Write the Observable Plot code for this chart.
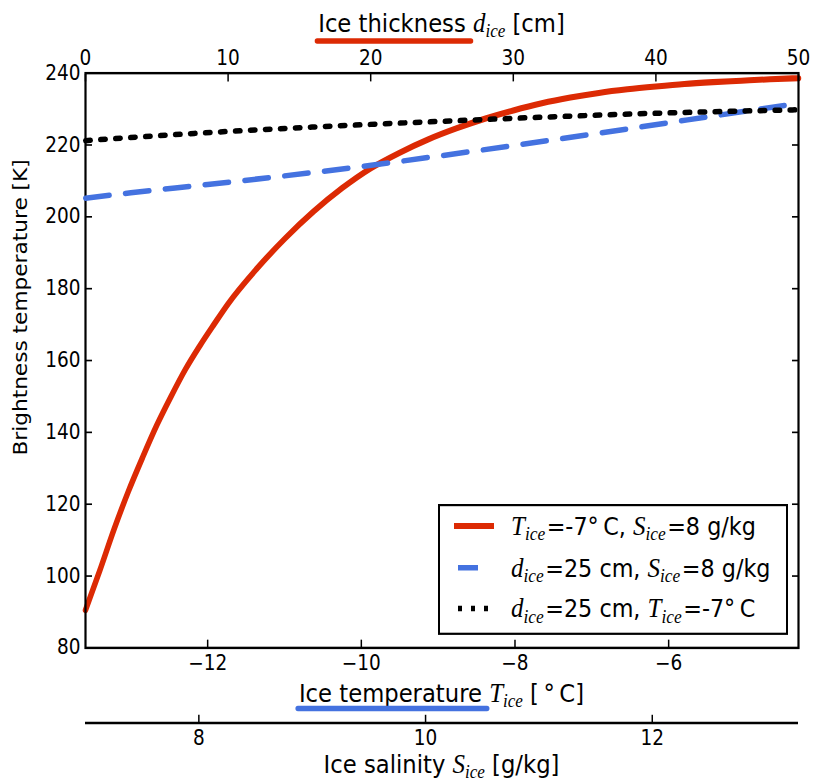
<!DOCTYPE html>
<html>
<head>
<meta charset="utf-8">
<script src="https://cdn.jsdelivr.net/npm/d3@7"></script>
<script src="https://cdn.jsdelivr.net/npm/@observablehq/plot@0.6"></script>
<style>
  html, body { margin: 0; padding: 0; background: #fff; }
  #chart { position: relative; width: 815px; height: 781px; font-family: "DejaVu Sans", sans-serif; color: #000; }
  #chart > svg { position: absolute; left: 0; top: 0; overflow: visible; }
  /* legend is laid out in the same 815x710 design units as the plots, then stretched */
  #legend { position: absolute; left: 438px; top: 503.8px; width: 350px; height: 118.5px; box-sizing: border-box;
            border: 2px solid #000; background: #fff; font-size: 22.3px;
            transform: scale(1, 1.1); transform-origin: 0 0; }
  #legend .row { position: absolute; left: 0; height: 26px; width: 100%; }
  #legend .row svg { position: absolute; left: 0; top: 0; }
  #legend .txt { position: absolute; left: 71px; top: 0; line-height: 26px; white-space: nowrap; }
  .mv { font-family: "Liberation Serif", serif; font-style: italic; font-size: 1.12em; }
  .ms { font-family: "Liberation Serif", serif; font-style: italic; font-size: 0.78em; position: relative; top: 0.3em; margin-right: 1.5px; }
</style>
</head>
<body>
<div id="chart"><div id="legend"></div></div>
<script>
// Brightness temperature of sea ice versus thickness, temperature and salinity.

// Series 1: varying ice thickness (T_ice = -7 °C, S_ice = 8 g/kg)
const thicknessCm = [0, 1, 2, 3, 4, 5, 6, 7, 8, 9, 10, 12, 14, 16, 18, 20, 22, 24, 26, 28, 30, 32, 34, 36, 38, 40, 42, 44, 46, 48, 50];
const tbVsThickness = [90.5, 101.5, 113, 123.5, 133, 142, 150, 157.5, 164, 170, 175.8, 185.5, 194, 201.5, 208, 213.5, 217.8, 221.5, 224.6, 227.3, 229.6, 231.6, 233.2, 234.5, 235.5, 236.3, 237, 237.5, 237.9, 238.3, 238.6];

// Series 2: varying ice temperature (d_ice = 25 cm, S_ice = 8 g/kg)
const iceTempC = [-13.59, -13, -12, -11, -10, -9, -8, -7, -6, -5, -4.31];
const tbVsTemp = [205.2, 206.7, 209.0, 211.4, 214.0, 216.9, 219.9, 223.0, 226.2, 229.4, 231.6];

// Series 3: varying ice salinity (d_ice = 25 cm, T_ice = -7 °C)
const salinityGkg = [7, 7.5, 8, 9, 10, 11, 12, 13, 13.29];
const tbVsSalinity = [221.2, 222.3, 223.3, 225.0, 226.4, 227.7, 228.8, 229.6, 229.8];

// Axis domains and ticks
const thicknessDomain = [0, 50];
const tempDomain = [-13.59, -4.31];
const salinityDomain = [7, 13.29];
const tbDomain = [80, 240];
const thicknessTicks = [0, 10, 20, 30, 40, 50];
const tempTicks = [-12, -10, -8, -6];
const salinityTicks = [8, 10, 12];
const tbTicks = [80, 100, 120, 140, 160, 180, 200, 220, 240];

const RED = "#dc2a04", BLUE = "#4472e0", BLACK = "#000";

// design size of each layer; every layer is drawn stretched to 815x781
const W = 815, H = 710, OUT_H = 781;
const frameBox = { marginLeft: 85, marginRight: 17, marginTop: 66, marginBottom: 121.5 };
const salinityAxisOffset = 68.3;
const fmt = d3.format("d");
const TICK = 18.5;

function base(extra) {
  return {
    width: W, height: H, ...frameBox,
    style: { fontFamily: '"DejaVu Sans", sans-serif', fontSize: TICK + "px", color: "#000", background: "transparent", overflow: "visible" },
    y: { domain: tbDomain },
    ...extra
  };
}

const thickRows = thicknessCm.map((d, i) => ({ d, tb: tbVsThickness[i] }));
const tempRows = iceTempC.map((t, i) => ({ t, tb: tbVsTemp[i] }));
const salRows = salinityGkg.map((s, i) => ({ s, tb: tbVsSalinity[i] }));

// Layer 1: thickness axis (top), brightness temperature axis, frame, thickness curve
const plotThickness = Plot.plot(base({
  x: { domain: thicknessDomain },
  marks: [
    Plot.line(thickRows, { x: "d", y: "tb", stroke: RED, strokeWidth: 5.5, curve: "monotone-x" }),
    Plot.axisX({ anchor: "top", ticks: thicknessTicks, tickFormat: fmt, tickSize: -7, tickPadding: 14, strokeWidth: 1.5, label: null, fontSize: TICK }),
    Plot.axisY({ anchor: "left", ticks: tbTicks, tickFormat: fmt, tickSize: -7, tickPadding: 12, strokeWidth: 1.5, label: null, fontSize: TICK }),
    Plot.axisY({ anchor: "right", ticks: tbTicks, tickFormat: () => "", tickSize: -7, strokeWidth: 1.5, label: null }),
    Plot.frame({ stroke: BLACK, strokeWidth: 2.2 })
  ]
}));

// Layer 2: temperature axis (bottom of frame) and temperature curve
const plotTemp = Plot.plot(base({
  x: { domain: tempDomain },
  y: { domain: tbDomain, axis: null },
  marks: [
    Plot.line(tempRows, { x: "t", y: "tb", stroke: BLUE, strokeWidth: 5, strokeDasharray: "24,16", curve: "monotone-x" }),
    Plot.axisX({ anchor: "bottom", ticks: tempTicks, tickFormat: fmt, tickSize: -7, tickPadding: 14, strokeWidth: 1.5, label: null, fontSize: TICK })
  ]
}));

// Layer 3: salinity axis (detached, below) and salinity curve
const plotSal = Plot.plot(base({
  x: { domain: salinityDomain },
  y: { domain: tbDomain, axis: null },
  marks: [
    Plot.line(salRows, { x: "s", y: "tb", stroke: BLACK, strokeWidth: 5, strokeDasharray: "5,10", curve: "monotone-x" }),
    Plot.ruleY([tbDomain[0]], { dy: salinityAxisOffset, stroke: BLACK, strokeWidth: 2.2 }),
    Plot.axisX({ anchor: "bottom", dy: salinityAxisOffset, ticks: salinityTicks, tickFormat: fmt, tickSize: -7, tickPadding: 14, strokeWidth: 1.5, label: null, fontSize: TICK })
  ]
}));

const chart = document.getElementById("chart");
const legendEl = document.getElementById("legend");
for (const p of [plotThickness, plotTemp, plotSal]) {
  p.setAttribute("viewBox", `0 0 ${W} ${H}`);
  p.setAttribute("preserveAspectRatio", "none");
  p.setAttribute("width", W);
  p.setAttribute("height", OUT_H);
  p.style.width = W + "px";
  p.style.height = OUT_H + "px";
  p.style.maxWidth = "none";
  chart.insertBefore(p, legendEl);
}

// Axis titles with math-style symbols
const LABEL = 22.7;
const svg = d3.select(plotThickness);
const cx = frameBox.marginLeft + (W - frameBox.marginLeft - frameBox.marginRight) / 2;

function axisTitle(x, y, lead, sym, tail, size, rotate) {
  const t = svg.append("text")
    .attr("text-anchor", "middle")
    .attr("font-size", size)
    .attr("font-family", '"DejaVu Sans", sans-serif')
    .attr("fill", "#000")
    .attr("transform", `translate(${x},${y})` + (rotate ? ` rotate(${rotate})` : ""));
  t.append("tspan").text(lead);
  if (sym) {
    t.append("tspan").attr("font-family", '"Liberation Serif", serif').attr("font-style", "italic").attr("font-size", size * 1.1).text(sym[0]);
    t.append("tspan").attr("font-family", '"Liberation Serif", serif').attr("font-style", "italic").attr("font-size", size * 0.75).attr("dy", 4.5).text(sym[1]);
    t.append("tspan").attr("dy", -4.5).text(tail);
  }
  return t;
}

function underline(textSel, nChars, color, y) {
  const node = textSel.node();
  const x0 = node.getStartPositionOfChar(0).x;
  const x1 = node.getEndPositionOfChar(nChars - 1).x;
  const m = /translate\(([-\d.]+),([-\d.]+)\)/.exec(textSel.attr("transform"));
  const tx = +m[1];
  svg.append("line")
    .attr("x1", tx + x0 - 1).attr("x2", tx + x1 + 5)
    .attr("y1", y).attr("y2", y)
    .attr("stroke", color).attr("stroke-width", 5).attr("stroke-linecap", "round");
}

const topTitle = axisTitle(cx, 29.5, "Ice thickness ", ["d", "ice"], " [cm]", LABEL);
underline(topTitle, "Ice thickness".length, RED, 37.3);

const tempTitle = axisTitle(cx, 638.2, "Ice temperature ", ["T", "ice"], " [\u2009\u00b0\u2009C]", LABEL);
underline(tempTitle, "Ice temperature".length, BLUE, 644);

axisTitle(cx, 702.8, "Ice salinity ", ["S", "ice"], " [g/kg]", LABEL);
axisTitle(27, 279.5, "Brightness temperature [K]", null, null, 19.7, -90);

// Legend
const legendLabels = [
  [["T", "ice"], "=-7\u00b0\u2009C, ", ["S", "ice"], "=8 g/kg"],
  [["d", "ice"], "=25 cm, ", ["S", "ice"], "=8 g/kg"],
  [["d", "ice"], "=25 cm, ", ["T", "ice"], "=-7\u00b0\u2009C"]
];
const legendStyles = [
  { stroke: RED, width: 5.5, dash: null, x1: 14, x2: 54 },
  { stroke: BLUE, width: 5, dash: null, x1: 18, x2: 38 },
  { stroke: BLACK, width: 5, dash: "4,9", x1: 18, x2: 50 }
];
const rowCenters = [19.7, 57.5, 94.8];

legendLabels.forEach((parts, i) => {
  const row = document.createElement("div");
  row.className = "row";
  row.style.top = (rowCenters[i] - 13 - 2) + "px";
  const st = legendStyles[i];
  const sw = d3.create("svg").attr("width", 70).attr("height", 26);
  sw.append("line").attr("x1", st.x1).attr("x2", st.x2).attr("y1", 13).attr("y2", 13)
    .attr("stroke", st.stroke).attr("stroke-width", st.width).attr("stroke-dasharray", st.dash);
  row.appendChild(sw.node());
  const txt = document.createElement("div");
  txt.className = "txt";
  txt.innerHTML = parts.map(p => Array.isArray(p)
    ? `<span class="mv">${p[0]}</span><span class="ms">${p[1]}</span>`
    : `<span>${p}</span>`).join("");
  row.appendChild(txt);
  legendEl.appendChild(row);
});
</script>
</body>
</html>
